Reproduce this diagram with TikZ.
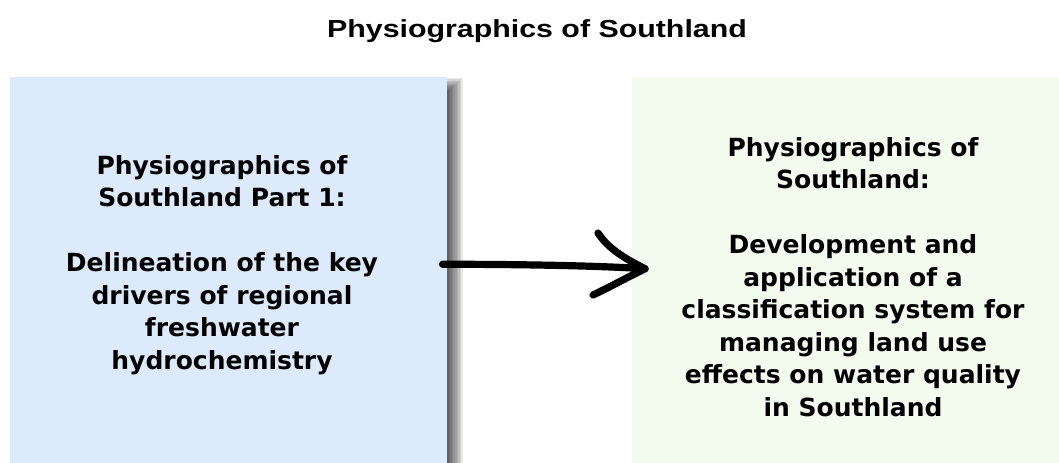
\documentclass[tikz,border=0pt]{standalone}
\usepackage{fontspec}
\setmainfont{DejaVu Sans}
\newfontfamily\titlefont{Liberation Sans Bold}[FakeStretch=1.23]
\usetikzlibrary{positioning, calc, arrows.meta}
\definecolor{boxblue}{RGB}{220,234,252}
\definecolor{boxgreen}{RGB}{243,251,239}

\begin{document}
\begin{tikzpicture}[x=0.75pt, y=-0.75pt,
    panel/.style={rectangle, inner sep=0pt, anchor=north west},
    caption/.style={align=center, inner sep=0pt, anchor=north,
        font=\bfseries\fontsize{18.75}{24.4}\selectfont},
    handarrow/.style={line width=5.4pt, line cap=round, line join=round}]
    \useasboundingbox (0,0) rectangle (1059,463);

    % title
    \node[font=\titlefont\fontsize{18.5}{22}\selectfont, anchor=base]
        (title) at (537,37.7) {Physiographics of Southland};

    % soft shadow right of the left panel
    \foreach \i in {1,...,10}{
        \fill[black, opacity=0.09] (447,{92-1.4*\i}) rectangle ({447+1.6*\i},463);
    }

    % the two panels
    \node[panel, fill=boxblue, minimum width=327.75pt, minimum height=289.5pt]
        (leftbox) at (10,77) {};
    \node[panel, fill=boxgreen, minimum width=320.25pt, minimum height=288.75pt]
        (rightbox) at (632,78) {};

    % panel texts
    \node[caption] (lefttext) at (222,155)
        {Physiographics of\\ Southland Part 1:\\[24.4pt]
         Delineation of the key\\ drivers of regional\\ freshwater\\ hydrochemistry};
    \node[caption] (righttext) at (853,137)
        {Physiographics of\\ Southland:\\[24.4pt]
         Development and\\ application of a\\ classification system for\\
         managing land use\\ effects on water quality\\ in Southland};

    % hand drawn arrow between the panels
    \coordinate (tail) at ($(leftbox.east)+(-5,-6)$);
    \coordinate (tip) at ($(rightbox.west)+(13,-2)$);
    \draw[handarrow] (tail) .. controls +(80,0) and +(-45,-3) .. (tip);
    \draw[handarrow] (598,233) .. controls (608,248) and (622,257) .. (tip)
        .. controls (628,277) and (608,288) .. (593,295);
\end{tikzpicture}
\end{document}
